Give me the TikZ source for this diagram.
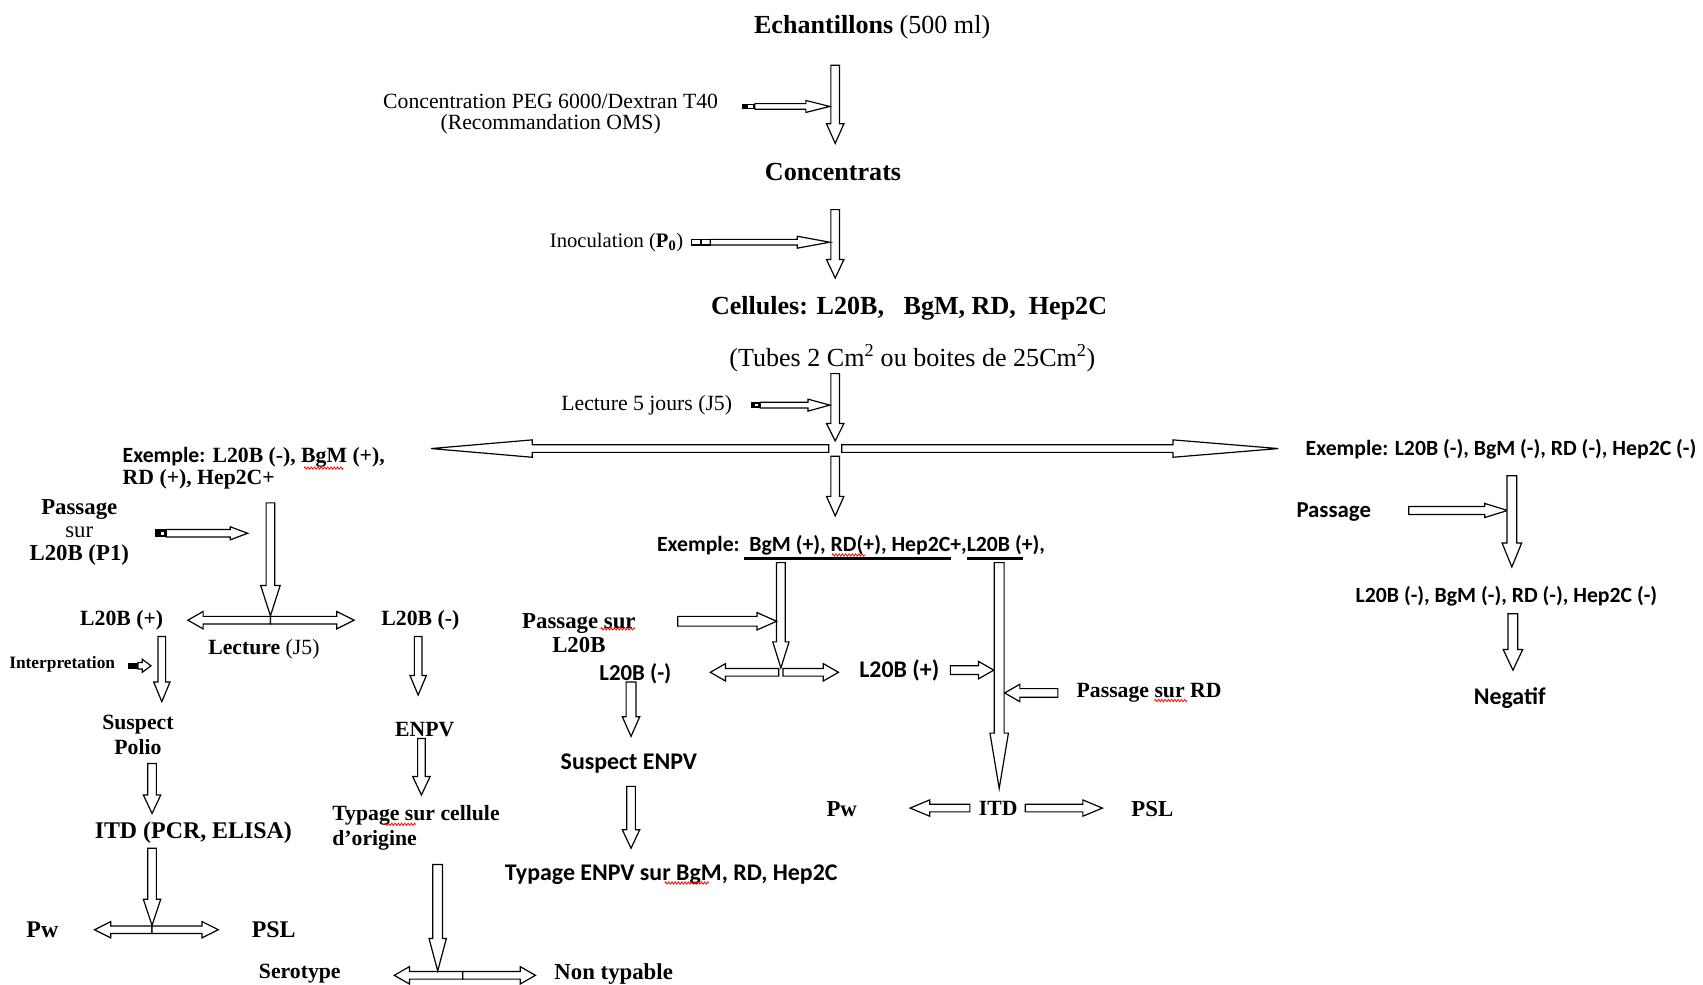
\documentclass[tikz,border=0pt]{standalone}
\usepackage{fontspec}
\setmainfont{Liberation Serif}
\newfontfamily\sansC{Carlito}
\usetikzlibrary{calc,decorations.pathmorphing}
\newcommand\Fz[1]{\fontsize{#1}{#1}\selectfont}
% hollow block arrow: #1 start, #2 tip, #3 shaft half-width, #4 head half-width, #5 head length
\newcommand{\HA}[5]{%
  \coordinate (hab) at ($(#2)!#5!(#1)$);
  \draw[hollow] ($(#1)!#3!90:(#2)$) -- ($(hab)!#3!90:(#2)$) -- ($(hab)!#4!90:(#2)$) -- (#2)
     -- ($(hab)!#4!-90:(#2)$) -- ($(hab)!#3!-90:(#2)$) -- ($(#1)!#3!-90:(#2)$) -- cycle;}
\begin{document}
\begin{tikzpicture}[x=1pt,y=-1pt,
  txt/.style={inner sep=0pt, outer sep=0pt},
  hollow/.style={draw=black, fill=white, line width=1.1pt, line join=miter},
  squig/.style={red, line width=0.7pt, decorate, decoration={zigzag, segment length=3pt, amplitude=1.1pt}},
  uline/.style={line width=3pt}]
\fill[white] (0,0) rectangle (1568,906);
\useasboundingbox (0,0) rectangle (1568,906);

% ---------- main column ----------
\node[txt,font=\Fz{24}] (ech) at (803,25) {\textbf{Echantillons} (500 ml)};
\node[txt,font=\Fz{20},align=center] (concl) at (507,105) {Concentration PEG 6000/Dextran T40\\(Recommandation OMS)};
\node[txt,font=\Fz{24}] (concentrats) at (767,158) {\textbf{Concentrats}};
\node[txt,font=\Fz{19},anchor=east] (inoc) at (629,223) {Inoculation (\textbf{P\textsubscript{0}})};
\node[txt,font=\Fz{24}] (cell) at (837,284) {\textbf{Cellules: L20B,\ \ \ BgM, RD,\ \ Hep2C}};
\node[txt,font=\Fz{24}] (tubes) at (840,330) {(Tubes 2 Cm\textsuperscript{2} ou boites de 25Cm\textsuperscript{2})};
\node[txt,font=\Fz{20},anchor=east] (lect5) at (674,373) {Lecture 5 jours (J5)};

\coordinate (a1s) at (769,60); \coordinate (a1e) at (769,132);
\HA{a1s}{a1e}{4pt}{8pt}{18pt}
\coordinate (s1s) at (695,98); \coordinate (s1e) at (764,98);
\HA{s1s}{s1e}{2.6pt}{5.5pt}{22pt}
\fill (683,95.4) rectangle (695,100.6); \fill[white] (689,96.8) rectangle (693,99.2);

\coordinate (a2s) at (769,193); \coordinate (a2e) at (769,256);
\HA{a2s}{a2e}{4pt}{8pt}{17pt}
\coordinate (s2s) at (654,223); \coordinate (s2e) at (764,223);
\HA{s2s}{s2e}{2.6pt}{5.5pt}{30pt}
\draw[line width=1pt] (637,220.4) rectangle (645,225.6) (646,220.4) rectangle (654,225.6);

\coordinate (a3s) at (769,344); \coordinate (a3e) at (769,406);
\HA{a3s}{a3e}{4pt}{8pt}{16pt}
\coordinate (s3s) at (700,373); \coordinate (s3e) at (764,373);
\HA{s3s}{s3e}{2.6pt}{5.5pt}{20pt}
\fill (691,370.4) rectangle (700,375.6); \fill[white] (695,371.8) rectangle (698,374.2);

\coordinate (cross) at (769,413);
\coordinate (crl) at ($(cross)+(-6,0)$); \coordinate (bl) at (397,413);
\HA{crl}{bl}{3.5pt}{8pt}{93pt}
\coordinate (crr) at ($(cross)+(6,0)$); \coordinate (br) at (1177,413);
\HA{crr}{br}{3.5pt}{8pt}{97pt}
\coordinate (a4s) at (769,420); \coordinate (a4e) at (769,475);
\HA{a4s}{a4e}{4pt}{8pt}{18pt}

% ---------- left branch ----------
\node[txt,font=\Fz{20},align=left,anchor=west] (exL) at (113,431) {{\sansC\bfseries Exemple:} \textbf{L20B (-), BgM (+),}\\\textbf{RD (+), Hep2C+}};
\node[txt,font=\Fz{21},align=center] (pass1) at (73,490) {\textbf{Passage}\\sur\\\textbf{L20B (P1)}};
\node[txt,font=\Fz{20}] (lp1) at (112,571) {\textbf{L20B (+)}};
\node[txt,font=\Fz{20}] (lm1) at (387,571) {\textbf{L20B (-)}};
\node[txt,font=\Fz{20}] (lectJ5) at (243,598) {\textbf{Lecture} (J5)};
\node[txt,font=\Fz{16},anchor=east] (interp) at (106,612) {\textbf{Interpretation}};
\node[txt,font={\fontsize{20}{23}\selectfont},align=center] (susp) at (127,677) {\textbf{Suspect}\\\textbf{Polio}};
\node[txt,font=\Fz{22}] (itd1) at (178,767) {\textbf{ITD (PCR, ELISA)}};
\node[txt,font=\Fz{22}] (pw1) at (39,856) {\textbf{Pw}};
\node[txt,font=\Fz{22}] (psl1) at (252,856) {\textbf{PSL}};
\node[txt,font=\Fz{20}] (enpv) at (391,672) {\textbf{ENPV}};
\node[txt,font={\fontsize{20}{23}\selectfont},align=left,anchor=west] (typ1) at (306,762) {\textbf{Typage sur cellule}\\\textbf{d'origine}};
\node[txt,font=\Fz{20}] (sero) at (276,896) {\textbf{Serotype}};
\node[txt,font=\Fz{21}] (nontyp) at (565,897) {\textbf{Non typable}};

\coordinate (d1c) at (249,571); \coordinate (d1l) at (173,571); \coordinate (d1r) at (326,571);
\HA{d1c}{d1l}{3.5pt}{8pt}{14pt}
\HA{d1c}{d1r}{3.5pt}{8pt}{16pt}
\coordinate (a5s) at (249,463); \coordinate (a5e) at (249,567);
\HA{a5s}{a5e}{4pt}{9pt}{28pt}
\coordinate (p1s) at (153,491); \coordinate (p1e) at (228,491);
\HA{p1s}{p1e}{3.5pt}{6pt}{16pt}
\fill (143,487.5) rectangle (153,494.5); \fill[white] (148,489.5) rectangle (151,492.5);
\coordinate (a6s) at (149,586); \coordinate (a6e) at (149,646);
\HA{a6s}{a6e}{3.5pt}{7.5pt}{18pt}
\fill (118,610) rectangle (127,616);
\coordinate (i1s) at (127,613); \coordinate (i1e) at (139,613);
\HA{i1s}{i1e}{3pt}{6pt}{8pt}
\coordinate (a7s) at (140,703); \coordinate (a7e) at (140,749);
\HA{a7s}{a7e}{4pt}{8pt}{17pt}
\coordinate (d2c) at (140,856); \coordinate (d2l) at (87,856); \coordinate (d2r) at (201,856);
\HA{d2c}{d2l}{3.5pt}{7.5pt}{15pt}
\HA{d2c}{d2r}{3.5pt}{7.5pt}{15pt}
\coordinate (a8s) at (140,781); \coordinate (a8e) at (140,852);
\HA{a8s}{a8e}{4pt}{8pt}{24pt}
\coordinate (a9s) at (385,586); \coordinate (a9e) at (385,640);
\HA{a9s}{a9e}{3.5pt}{7.5pt}{18pt}
\coordinate (a10s) at (388,680); \coordinate (a10e) at (388,732);
\HA{a10s}{a10e}{3.5pt}{8pt}{17pt}
\coordinate (d3c) at (426,898); \coordinate (d3l) at (363,898); \coordinate (d3r) at (493,898);
\HA{d3c}{d3l}{3.5pt}{8pt}{14pt}
\HA{d3c}{d3r}{3.5pt}{8pt}{14pt}
\coordinate (a11s) at (403,796); \coordinate (a11e) at (403,894);
\HA{a11s}{a11e}{4.5pt}{8pt}{30pt}

% ---------- middle branch ----------
\node[txt,font=\sansC\bfseries\Fz{20},anchor=west] (exM) at (605,502) {Exemple:\ \ BgM (+), RD(+), Hep2C+,L20B (+),};
\draw[uline] (685,514) -- (876,514);
\draw[uline] (890,514) -- (942,514);
\node[txt,font={\fontsize{21}{22}\selectfont},align=center] (pass2) at (533,583) {\textbf{Passage sur}\\\textbf{L20B}};
\node[txt,font=\sansC\bfseries\Fz{21}] (lm2) at (585,620) {L20B (-)};
\node[txt,font=\sansC\bfseries\Fz{22}] (lp2) at (828,617) {L20B (+)};
\node[txt,font=\sansC\bfseries\Fz{22}] (suspE) at (579,703) {Suspect ENPV};
\node[txt,font=\sansC\bfseries\Fz{22}] (typ2) at (618,805) {Typage ENPV sur BgM, RD, Hep2C};
\node[txt,font=\Fz{20}] (passRD) at (1058,638) {\textbf{Passage sur RD}};
\node[txt,font=\Fz{21}] (pw2) at (775,745) {\textbf{Pw}};
\node[txt,font=\Fz{20}] (itd2) at (919,744) {\textbf{ITD}};
\node[txt,font=\Fz{21}] (psl2) at (1061,745) {\textbf{PSL}};

\coordinate (d4cl) at (717,619); \coordinate (d4l) at (654,619);
\coordinate (d4cr) at (721,619); \coordinate (d4r) at (772,619);
\HA{d4cl}{d4l}{3.5pt}{8pt}{14pt}
\HA{d4cr}{d4r}{3.5pt}{8pt}{14pt}
\coordinate (a12s) at (719,518); \coordinate (a12e) at (719,615);
\HA{a12s}{a12e}{4pt}{7.5pt}{24pt}
\coordinate (p2s) at (624,572); \coordinate (p2e) at (715,572);
\HA{p2s}{p2e}{4.5pt}{8pt}{18pt}
\coordinate (a14s) at (581,628); \coordinate (a14e) at (581,678);
\HA{a14s}{a14e}{4.5pt}{8pt}{18pt}
\coordinate (a15s) at (581,724); \coordinate (a15e) at (581,781);
\HA{a15s}{a15e}{4pt}{8pt}{17pt}
\coordinate (a13s) at (920,518); \coordinate (a13e) at (920,726);
\HA{a13s}{a13e}{4.5pt}{8.5pt}{51pt}
\coordinate (lp2s) at (875,617); \coordinate (lp2e) at (915,617);
\HA{lp2s}{lp2e}{4pt}{8pt}{14pt}
\coordinate (rds) at (974,638); \coordinate (rde) at (925,638);
\HA{rds}{rde}{4pt}{8pt}{14pt}
\coordinate (itdl) at (893,744); \coordinate (pwl) at (838,744);
\HA{itdl}{pwl}{3.5pt}{7.5pt}{18pt}
\coordinate (itdr) at (944,744); \coordinate (pslr) at (1015,744);
\HA{itdr}{pslr}{3.5pt}{7.5pt}{18pt}

% ---------- right branch ----------
\node[txt,font=\sansC\bfseries\Fz{20}] (exR) at (1382,414) {Exemple: L20B (-), BgM (-), RD (-), Hep2C (-)};
\node[txt,font=\sansC\bfseries\Fz{21}] (passR) at (1228,471) {Passage};
\node[txt,font=\sansC\bfseries\Fz{20}] (resR) at (1387,549) {L20B (-), BgM (-), RD (-), Hep2C (-)};
\node[txt,font=\sansC\bfseries\Fz{22}] (neg) at (1390,643) {Negatif};
\coordinate (pRs) at (1297,470); \coordinate (pRe) at (1388,470);
\HA{pRs}{pRe}{3.7pt}{6.5pt}{21pt}
\coordinate (a16s) at (1392,438); \coordinate (a16e) at (1392,522);
\HA{a16s}{a16e}{4.5pt}{9pt}{22pt}
\coordinate (a17s) at (1393,565); \coordinate (a17e) at (1393,617);
\HA{a17s}{a17e}{4.5pt}{9pt}{19pt}

% ---------- spell-check marks ----------
\draw[squig] (280,431) -- (316,431);
\draw[squig] (766,511) -- (797,511);
\draw[squig] (553,579) -- (585,579);
\draw[squig] (354,759) -- (383,759);
\draw[squig] (1063,645) -- (1093,645);
\draw[squig] (612,813) -- (653,813);
\end{tikzpicture}
\end{document}
